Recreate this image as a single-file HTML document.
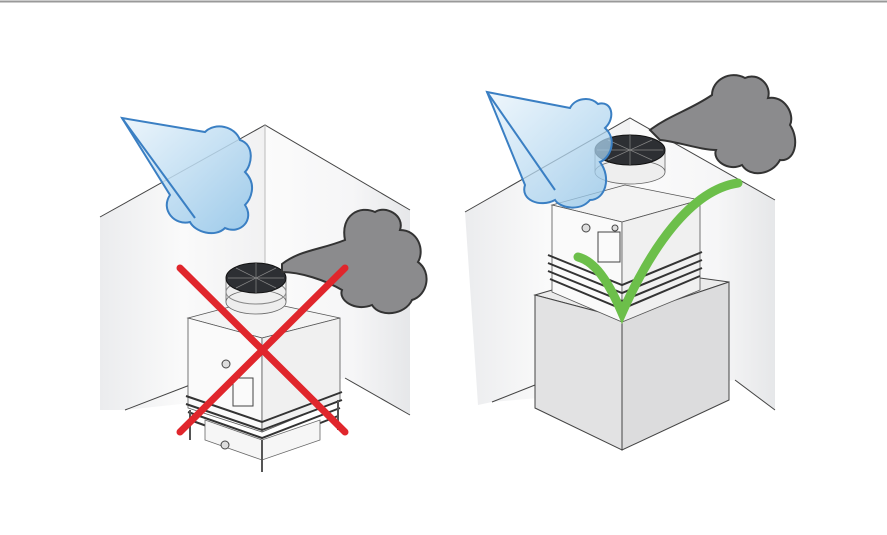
<!DOCTYPE html>
<html><head><meta charset="utf-8"><style>
html,body{margin:0;padding:0;background:#fff;width:887px;height:535px;overflow:hidden}
</style></head><body>
<svg width="887" height="535" viewBox="0 0 887 535" xmlns="http://www.w3.org/2000/svg">
<defs>
<linearGradient id="wl" x1="0" x2="1"><stop offset="0" stop-color="#ebecee"/><stop offset="0.5" stop-color="#fafafa"/><stop offset="1" stop-color="#f1f1f2"/></linearGradient>
<linearGradient id="wr" x1="0" x2="1"><stop offset="0" stop-color="#fbfbfb"/><stop offset="0.6" stop-color="#f6f6f7"/><stop offset="1" stop-color="#e6e7e9"/></linearGradient>
<linearGradient id="bl" x1="0" y1="0" x2="1" y2="1"><stop offset="0" stop-color="#eaf4fb"/><stop offset="1" stop-color="#8ec3e8"/></linearGradient>
</defs>
<line x1="0" y1="1.5" x2="887" y2="1.5" stroke="#999" stroke-width="2"/>

<!-- LEFT SCENE walls -->
<polygon points="100,217 265,125 265,395 125,410 100,410" fill="url(#wl)"/>
<polygon points="265,125 410,210 410,415 345,378 265,395" fill="url(#wr)"/>
<polyline points="100,217 265,125 410,210" fill="none" stroke="#444" stroke-width="1"/>
<line x1="265" y1="125" x2="265" y2="280" stroke="#bbb"/>
<line x1="125" y1="410" x2="190" y2="385" stroke="#444"/>
<line x1="345" y1="378" x2="410" y2="415" stroke="#444"/>
<!-- unit left -->
<polygon points="188,318 256,300 340,318 262,338" fill="#f4f4f4" stroke="#555" stroke-width="0.8"/>
<polygon points="188,318 262,338 262,432 188,408" fill="#fafafa" stroke="#555" stroke-width="0.8"/>
<polygon points="262,338 340,318 340,400 262,432" fill="#f0f0f0" stroke="#555" stroke-width="0.8"/>
<g stroke="#333" stroke-width="2" fill="none">
<polyline points="186,396 262,422 342,392"/><polyline points="186,404 262,430 342,400"/><polyline points="188,412 262,438 340,408"/><polyline points="190,420 262,446 338,416"/>
</g>
<polygon points="205,420 262,440 320,420 320,440 262,460 205,440" fill="#f6f6f6" stroke="#666" stroke-width="0.8"/>
<line x1="262" y1="440" x2="262" y2="472" stroke="#555" stroke-width="2"/>
<line x1="190" y1="410" x2="190" y2="440" stroke="#555" stroke-width="2"/>
<line x1="338" y1="400" x2="338" y2="430" stroke="#555" stroke-width="2"/>
<circle cx="226" cy="364" r="4" fill="#ddd" stroke="#444"/>
<rect x="233" y="378" width="20" height="28" fill="none" stroke="#444"/>
<circle cx="225" cy="445" r="4" fill="#ddd" stroke="#444"/>
<rect x="226" y="280" width="60" height="22" fill="#eee" stroke="#666" stroke-width="0.8"/>
<ellipse cx="256" cy="302" rx="30" ry="12" fill="#eee" stroke="#666" stroke-width="0.8"/>
<ellipse cx="256" cy="292" rx="30" ry="12" fill="none" stroke="#888"/>
<ellipse cx="256" cy="278" rx="30" ry="15" fill="#2d2f33" stroke="#111"/>
<g stroke="#888" stroke-width="0.7"><line x1="228" y1="278" x2="284" y2="278"/><line x1="256" y1="263" x2="256" y2="293"/><line x1="236" y1="268" x2="276" y2="288"/><line x1="236" y1="288" x2="276" y2="268"/></g>
<!-- blue cloud left -->
<path d="M122,118 L205,132 C215,122 235,126 240,140 C255,145 252,165 245,172 C258,185 250,200 245,205 C255,220 240,235 225,228 C215,238 195,232 190,222 C175,226 160,210 170,195 Z" fill="url(#bl)" fill-opacity="0.85" stroke="#3a7fc3" stroke-width="2"/>
<line x1="122" y1="118" x2="195" y2="218" stroke="#3a7fc3" stroke-width="2"/>
<!-- gray cloud left -->
<path d="M282,264 C300,250 320,250 345,240 C340,215 360,205 375,212 C385,205 405,215 400,230 C418,230 425,250 418,262 C432,272 428,295 412,300 C405,315 380,318 372,305 C355,312 338,300 342,290 C325,280 300,272 282,272 Z" fill="#8b8b8d" stroke="#333" stroke-width="2"/>
<!-- red X -->
<g stroke="#e0262c" stroke-width="7" stroke-linecap="round"><line x1="180" y1="268" x2="345" y2="432"/><line x1="345" y1="268" x2="180" y2="432"/></g>

<!-- RIGHT SCENE walls -->
<polygon points="465,212 630,118 630,390 492,402 478,405" fill="url(#wl)"/>
<polygon points="630,118 775,200 775,410 735,380 630,390" fill="url(#wr)"/>
<polyline points="465,212 630,118 775,200" fill="none" stroke="#444"/>
<line x1="492" y1="402" x2="535" y2="385" stroke="#444"/>
<line x1="735" y1="380" x2="775" y2="410" stroke="#444"/>
<!-- pedestal -->
<polygon points="535,295 628,268 729,282 622,318" fill="#ebebeb" stroke="#444"/>
<polygon points="535,295 622,318 622,450 535,408" fill="#e2e2e3" stroke="#444"/>
<polygon points="622,318 729,282 729,400 622,450" fill="#dcdcdd" stroke="#444"/>
<!-- unit right -->
<polygon points="552,205 625,185 700,200 622,222" fill="#f3f3f3" stroke="#555" stroke-width="0.8"/>
<polygon points="552,205 622,222 622,322 552,292" fill="#fafafa" stroke="#555" stroke-width="0.8"/>
<polygon points="622,222 700,200 700,290 622,322" fill="#f0f0f0" stroke="#555" stroke-width="0.8"/>
<g stroke="#333" stroke-width="2" fill="none">
<polyline points="548,255 622,285 702,252"/><polyline points="548,263 622,293 702,260"/><polyline points="548,271 622,301 702,268"/><polyline points="550,279 622,309 700,276"/>
</g>
<circle cx="586" cy="228" r="4" fill="#ddd" stroke="#444"/><circle cx="615" cy="228" r="3" fill="#ddd" stroke="#444"/>
<rect x="598" y="232" width="22" height="30" fill="none" stroke="#444"/>
<rect x="595" y="150" width="70" height="22" fill="#eee" stroke="#666" stroke-width="0.8"/>
<ellipse cx="630" cy="172" rx="35" ry="12" fill="#eee" stroke="#666" stroke-width="0.8"/>
<ellipse cx="630" cy="150" rx="35" ry="15" fill="#2d2f33" stroke="#111"/>
<g stroke="#888" stroke-width="0.7"><line x1="597" y1="150" x2="663" y2="150"/><line x1="630" y1="135" x2="630" y2="165"/><line x1="608" y1="140" x2="652" y2="160"/><line x1="608" y1="160" x2="652" y2="140"/></g>
<!-- blue cloud right -->
<path d="M487,92 L570,108 C575,98 590,96 598,104 C612,100 616,118 605,128 C618,140 610,158 600,162 C612,178 605,200 590,200 C580,212 560,208 555,200 C540,208 520,200 525,185 Z" fill="url(#bl)" fill-opacity="0.75" stroke="#3a7fc3" stroke-width="2"/>
<line x1="487" y1="92" x2="555" y2="190" stroke="#3a7fc3" stroke-width="2"/>
<!-- gray cloud right -->
<path d="M650,130 C670,115 690,110 712,95 C712,80 730,70 745,78 C758,72 772,85 768,98 C785,95 795,115 790,125 C800,140 795,162 780,160 C772,175 750,178 742,165 C728,172 712,160 716,150 C700,150 680,142 660,140 Z" fill="#8b8b8d" stroke="#333" stroke-width="2"/>
<!-- green check -->
<path d="M578,257 C598,262 612,290 622,313 C650,250 690,190 738,183" fill="none" stroke="#6cbf4a" stroke-width="9" stroke-linecap="round"/>
</svg>
</body></html>
